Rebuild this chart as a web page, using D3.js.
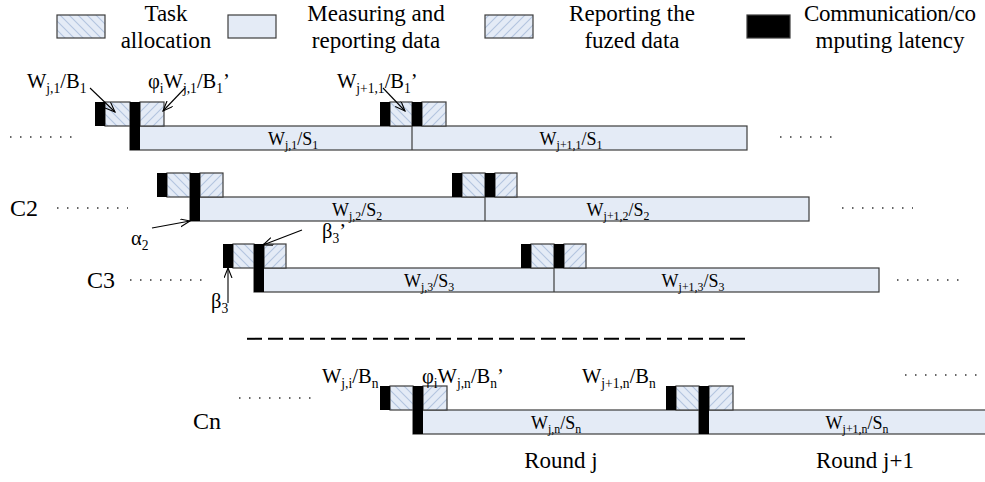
<!DOCTYPE html>
<html>
<head>
<meta charset="utf-8">
<script src="https://cdn.jsdelivr.net/npm/d3@7"></script>
<style>
  html, body { margin: 0; padding: 0; background: #fff; }
  svg { display: block; font-family: "Liberation Serif", "Times New Roman", serif; }
</style>
</head>
<body>
<svg id="chart" width="985" height="482"></svg>
<script>
// ---------------- data ----------------
const clusters      = ["C1", "C2", "C3", "Cn"];
const clusterLabels = ["", "C2", "C3", "Cn"];
const rowSlot       = [0, 1, 2, 4];            // slot 3 is the "..." gap
// timeline (same unit as the horizontal time scale)
const roundJStart   = [95, 157, 223, 380];
const roundJ1Start  = [380, 452, 521, 666];
const latency       = [10, 10, 10, 10];
const taskJ         = [25, 23, 21, 23];
const taskJ1        = [22, 23, 23, 23];
const reportJ       = [24, 23, 22, 24];
const reportJ1      = [24, 22, 22, 24];
const measureEnd    = [747, 809, 879, 1000];
const j1LatencyThroughBar = [false, false, false, true];

const legendKeys  = ["task", "measure", "report", "latency"];
const legendLines = [["Task", "allocation"], ["Measuring and", "reporting data"],
                     ["Reporting the", "fuzed data"], ["Communication/co", "mputing latency"]];

const measureLabelsJ  = ["W_{j,1}/S_{1}", "W_{j,2}/S_{2}", "W_{j,3}/S_{3}", "W_{j,n}/S_{n}"];
const measureLabelsJ1 = ["W_{j+1,1}/S_{1}", "W_{j+1,2}/S_{2}", "W_{j+1,3}/S_{3}", "W_{j+1,n}/S_{n}"];
const roundLabels = ["Round j", "Round j+1"];

// ---------------- setup ----------------
const svg = d3.select("#chart");
const x = d3.scaleLinear().domain([0, 985]).range([0, 985]);
const y = d3.scaleLinear().domain([0, 4]).range([102, 386]);   // top of small boxes per slot
const boxH = 24;
const FILL = "#e4ebf6", HATCH = "#b3c4df", EDGE = "#3c3c3c";

const defs = svg.append("defs");
function hatch(id, back) {
  const p = defs.append("pattern").attr("id", id).attr("patternUnits", "userSpaceOnUse")
    .attr("width", 9).attr("height", 9);
  p.append("rect").attr("width", 9).attr("height", 9).attr("fill", FILL);
  p.append("path").attr("stroke", HATCH).attr("stroke-width", 1.1).attr("fill", "none")
    .attr("d", back ? "M0,0L9,9M-1,8L1,10M8,-1L10,1" : "M0,9L9,0M-1,1L1,-1M8,10L10,8");
}
hatch("hTask", true);
hatch("hReport", false);
defs.append("marker").attr("id", "arr").attr("markerUnits", "userSpaceOnUse")
  .attr("markerWidth", 12).attr("markerHeight", 10).attr("refX", 10).attr("refY", 4)
  .attr("orient", "auto")
  .append("path").attr("d", "M0,0L10,4L0,8").attr("fill", "none").attr("stroke", "#000").attr("stroke-width", 1.1);

const fills = { task: "url(#hTask)", measure: FILL, report: "url(#hReport)", latency: "#000" };

function rich(g, str, px, py, fs, anchor) {
  const t = g.append("text").attr("x", px).attr("y", py).attr("font-size", fs)
    .attr("text-anchor", anchor || "start").attr("fill", "#000");
  const re = /_\{([^}]*)\}|([^_]+)/g;
  const d = fs * 0.24;
  let m, shifted = false;
  while ((m = re.exec(str))) {
    if (m[1] !== undefined) {
      t.append("tspan").attr("font-size", fs * 0.66).attr("dy", shifted ? 0 : d).text(m[1]);
      shifted = true;
    } else {
      t.append("tspan").attr("dy", shifted ? -d : 0).text(m[2]);
      shifted = false;
    }
  }
  return t;
}

// ---------------- legend ----------------
const legX = [57, 228, 485, 747], legW = [48, 48, 48, 43], legTX = [166, 376, 632, 890];
legendKeys.forEach((k, i) => {
  svg.append("rect").attr("x", legX[i]).attr("y", 15).attr("width", legW[i]).attr("height", 23)
    .attr("fill", fills[k]).attr("stroke", EDGE).attr("stroke-width", 1.2);
  legendLines[i].forEach((ln, j) => {
    const t = svg.append("text").attr("x", legTX[i]).attr("y", 21 + j * 27).attr("font-size", 23)
      .attr("text-anchor", "middle").text(ln);
    if (i === 3 && j === 0) t.attr("textLength", 172).attr("lengthAdjust", "spacing");
  });
});

// ---------------- rows ----------------
clusters.forEach((c, i) => {
  const top = y(rowSlot[i]);
  const barTop = top + boxH, barBot = barTop + boxH;
  const g = svg.append("g");
  const rounds = [
    { s: roundJStart[i], task: taskJ[i], rep: reportJ[i], through: true },
    { s: roundJ1Start[i], task: taskJ1[i], rep: reportJ1[i], through: j1LatencyThroughBar[i] }
  ];
  const t2J = rounds[0].s + latency[i] + rounds[0].task;
  const t2J1 = rounds[1].s + latency[i] + rounds[1].task;
  // measuring bar
  g.append("rect").attr("x", x(t2J)).attr("y", barTop).attr("width", x(measureEnd[i]) - x(t2J))
    .attr("height", boxH).attr("fill", FILL).attr("stroke", EDGE).attr("stroke-width", 1.2);
  g.append("line").attr("x1", x(t2J1)).attr("x2", x(t2J1)).attr("y1", barTop).attr("y2", barBot)
    .attr("stroke", EDGE).attr("stroke-width", 1.2);
  rounds.forEach(r => {
    const t0 = r.s, t1 = t0 + latency[i], t2 = t1 + r.task, t3 = t2 + latency[i], t4 = t3 + r.rep;
    g.append("rect").attr("x", x(t1)).attr("y", top).attr("width", x(t2) - x(t1)).attr("height", boxH)
      .attr("fill", fills.task).attr("stroke", EDGE).attr("stroke-width", 1.2);
    g.append("rect").attr("x", x(t3)).attr("y", top).attr("width", x(t4) - x(t3)).attr("height", boxH)
      .attr("fill", fills.report).attr("stroke", EDGE).attr("stroke-width", 1.2);
    g.append("rect").attr("x", x(t0)).attr("y", top).attr("width", x(t1) - x(t0)).attr("height", boxH)
      .attr("fill", "#000");
    g.append("rect").attr("x", x(t2)).attr("y", top).attr("width", x(t3) - x(t2))
      .attr("height", r.through ? 2 * boxH : boxH).attr("fill", "#000");
  });
  // bar texts
  const tb = barBot - 5.5;
  const cJ = [293, 357, 429, 556][i], cJ1 = [571, 618, 693, 857][i];
  rich(g, measureLabelsJ[i], cJ, tb, 18, "middle");
  rich(g, measureLabelsJ1[i], cJ1, tb, 18, "middle");
  // cluster label
  if (clusterLabels[i]) {
    const lx = [0, 10, 87, 193][i], ly = [0, 216, 288, 429][i];
    g.append("text").attr("x", lx).attr("y", ly).attr("font-size", 24).text(clusterLabels[i]);
  }
});

// ---------------- dotted continuation marks ----------------
const dots = [[10, 80, 137], [57, 128, 208], [130, 202, 280], [239, 312, 398],
              [780, 840, 137], [842, 913, 208], [897, 965, 280], [905, 985, 375]];
dots.forEach(([a, b, yy]) => {
  svg.append("line").attr("x1", a).attr("x2", b).attr("y1", yy).attr("y2", yy)
    .attr("stroke", "#333").attr("stroke-width", 1.5).attr("stroke-dasharray", "1.5,8.5");
});

// dashed separator
svg.append("line").attr("x1", 247).attr("x2", 745).attr("y1", y(3.335)).attr("y2", y(3.335))
  .attr("stroke", "#000").attr("stroke-width", 2).attr("stroke-dasharray", "15,6");

// ---------------- annotations ----------------
const ann = [
  ["W_{j,1}/B_{1}", 27, 88, 20.5],
  ["φ_{i}W_{j,1}/B_{1}’", 148, 88, 20.5],
  ["W_{j+1,1}/B_{1}’", 337, 88, 20.5],
  ["W_{j,i}/B_{n}", 322, 383, 20.5],
  ["φ_{i}W_{j,n}/B_{n}’", 422, 383, 20.5],
  ["W_{j+1,n}/B_{n}", 582, 383, 20.5],
  ["α_{2}", 131, 245, 20.5],
  ["β_{3}’", 322, 238, 20.5],
  ["β_{3}", 211, 308, 20.5]
];
ann.forEach(a => rich(svg, a[0], a[1], a[2], a[3], "start"));

const arrows = [[90, 88, 115, 112], [185, 88, 163, 111], [383, 88, 405, 111],
                [152, 228, 190, 221], [302, 230, 263, 245], [228, 303, 228, 268]];
arrows.forEach(([x1, y1, x2, y2]) => {
  svg.append("line").attr("x1", x1).attr("y1", y1).attr("x2", x2).attr("y2", y2)
    .attr("stroke", "#000").attr("stroke-width", 1.1).attr("marker-end", "url(#arr)");
});

// round labels
[561, 865].forEach((cx, k) => {
  svg.append("text").attr("x", cx).attr("y", 468).attr("font-size", 23)
    .attr("text-anchor", "middle").text(roundLabels[k]);
});
</script>
</body>
</html>
